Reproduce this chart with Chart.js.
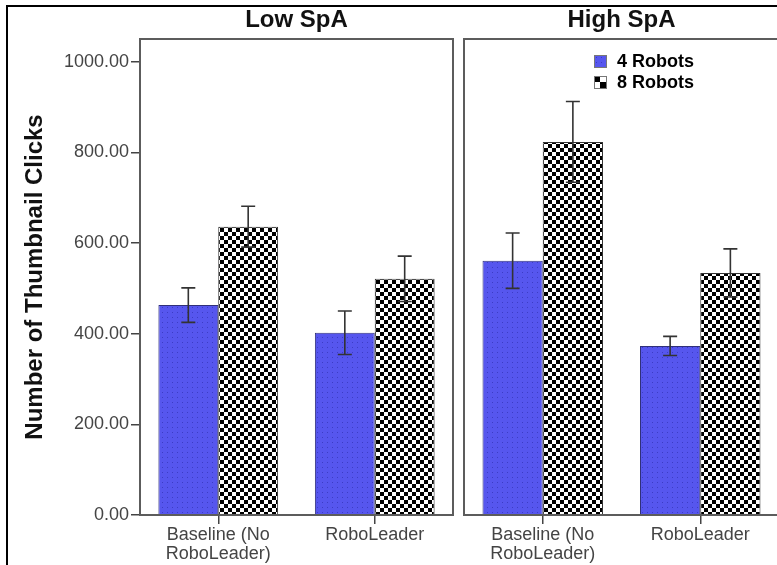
<!DOCTYPE html>
<html lang="en">
<head>
<meta charset="UTF-8">
<title>Number of Thumbnail Clicks</title>
<script src="https://cdn.jsdelivr.net/npm/chart.js@4.4.1/dist/chart.umd.min.js"></script>
<style>
  html, body { margin: 0; padding: 0; background: #fff; overflow: hidden; width: 777px; height: 565px; }
  #frame { position: absolute; left: 6px; top: 5px; width: 820px; height: 620px; border: 2px solid #000; box-sizing: border-box; }
  canvas { position: absolute; top: 0; }
  #low { left: 0; }
  #high { left: 460px; }
</style>
</head>
<body>
<div id="frame"></div>
<canvas id="low" width="462" height="565"></canvas>
<canvas id="high" width="340" height="565"></canvas>
<script>
// data
const categories = [['Baseline (No', 'RoboLeader)'], 'RoboLeader'];
const seriesNames = ['4 Robots', '8 Robots'];
const panelTitles = ['Low SpA', 'High SpA'];
const low4 = [463, 402];
const low8 = [636, 521];
const high4 = [561, 373];
const high8 = [823, 534];
const low4Err = [38, 48];
const low8Err = [45, 50];
const high4Err = [61, 21];
const high8Err = [89, 53];
const yTicks = [0, 200, 400, 600, 800, 1000];
const yMax = 1050;

const FONT = "'Liberation Sans', Arial, sans-serif";

function tile(w, h, draw) {
  const c = document.createElement('canvas');
  c.width = w; c.height = h;
  draw(c.getContext('2d'));
  return c.getContext('2d').createPattern(c, 'repeat');
}

const bluePattern = tile(5, 5, x => {
  x.fillStyle = '#5656ee'; x.fillRect(0, 0, 5, 5);
  x.fillStyle = '#3c3cc4'; x.fillRect(2, 2, 1, 1);
});
const checkPattern = tile(8, 8, x => {
  x.fillStyle = '#fff'; x.fillRect(0, 0, 8, 8);
  x.fillStyle = '#000'; x.fillRect(0, 0, 4, 4); x.fillRect(4, 4, 4, 4);
});
const checkSwatch = tile(12, 12, x => {
  x.fillStyle = '#fff'; x.fillRect(0, 0, 12, 12);
  x.fillStyle = '#000'; x.fillRect(0, 0, 6, 6); x.fillRect(6, 6, 6, 6);
});
const swatches = [bluePattern, checkSwatch];

// grey box round each panel
const panelBox = {
  id: 'panelBox',
  afterDatasetsDraw(chart) {
    const { ctx, chartArea: a } = chart;
    ctx.save();
    ctx.strokeStyle = '#5c5c5c';
    ctx.lineWidth = 2;
    ctx.strokeRect(a.left, a.top, a.right - a.left, a.bottom - a.top);
    ctx.restore();
  }
};

const errorBars = {
  id: 'errorBars',
  afterDatasetsDraw(chart) {
    const { ctx } = chart;
    const y = chart.scales.y;
    ctx.save();
    ctx.strokeStyle = '#333';
    ctx.lineWidth = 1.6;
    chart.data.datasets.forEach((ds, i) => {
      chart.getDatasetMeta(i).data.forEach((bar, j) => {
        const top = y.getPixelForValue(ds.data[j] + ds.errors[j]);
        const bot = y.getPixelForValue(ds.data[j] - ds.errors[j]);
        ctx.beginPath();
        ctx.moveTo(bar.x, top); ctx.lineTo(bar.x, bot);
        ctx.moveTo(bar.x - 7, top); ctx.lineTo(bar.x + 7, top);
        ctx.moveTo(bar.x - 7, bot); ctx.lineTo(bar.x + 7, bot);
        ctx.stroke();
      });
    });
    ctx.restore();
  }
};

const cornerLegend = {
  id: 'cornerLegend',
  afterDraw(chart) {
    const { ctx, chartArea: a } = chart;
    ctx.save();
    ctx.font = 'bold 18px ' + FONT;
    ctx.textBaseline = 'middle';
    chart.data.datasets.forEach((ds, i) => {
      const x = a.left + 130, y = a.top + 22 + i * 21;
      const p = swatches[i];
      p.setTransform(new DOMMatrix().translate(x, y - 6));
      ctx.fillStyle = p;
      ctx.fillRect(x, y - 6, 13, 13);
      ctx.strokeStyle = '#777';
      ctx.lineWidth = 1;
      ctx.strokeRect(x + 0.5, y - 5.5, 12, 12);
      ctx.fillStyle = '#000';
      ctx.fillText(ds.label, x + 23, y + 1);
    });
    ctx.restore();
  }
};

function panel(id, title, d4, d8, e4, e8, withAxis, padding, extra) {
  return new Chart(document.getElementById(id), {
    type: 'bar',
    data: {
      labels: categories,
      datasets: [
        { label: seriesNames[0], data: d4, errors: e4, backgroundColor: bluePattern,
          borderColor: '#30307a', borderWidth: 1 },
        { label: seriesNames[1], data: d8, errors: e8, backgroundColor: checkPattern,
          borderColor: '#333', borderWidth: 1 }
      ]
    },
    options: {
      responsive: false,
      animation: false,
      datasets: { bar: { categoryPercentage: 0.765, barPercentage: 1 } },
      layout: { padding: padding },
      plugins: {
        legend: { display: false },
        tooltip: { enabled: false },
        title: {
          display: true, text: title, fullSize: false, color: '#111',
          font: { family: FONT, size: 24, weight: 'bold' },
          padding: { top: 6, bottom: 4.2 }
        }
      },
      scales: {
        x: {
          afterFit(s) { s.height = 50; },
          grid: { offset: false, drawOnChartArea: false, drawTicks: true, tickLength: 9, color: '#444', lineWidth: 1.5 },
          border: { display: false },
          ticks: { color: '#444', padding: 2, maxRotation: 0, autoSkip: false,
                   font: { family: FONT, size: 18, lineHeight: 1.05 } }
        },
        y: {
          display: withAxis,
          min: 0, max: yMax,
          afterFit(s) { s.width = withAxis ? 140 : 0; },
          afterBuildTicks(s) { s.ticks = yTicks.map(v => ({ value: v })); },
          grid: { drawOnChartArea: false, drawTicks: true, tickLength: 9, color: '#444', lineWidth: 1.5 },
          border: { display: false },
          ticks: { color: '#444', padding: 2, font: { family: FONT, size: 18 },
                   callback: v => v.toFixed(2) },
          title: { display: true, text: 'Number of Thumbnail Clicks', color: '#111',
                   font: { family: FONT, size: 24, weight: 'bold' }, padding: { top: 20.6, bottom: 0 } }
        }
      }
    },
    plugins: [panelBox, errorBars].concat(extra)
  });
}

panel('low', panelTitles[0], low4, low8, low4Err, low8Err, true, { left: 0, right: 9, top: 0, bottom: 0 }, []);
panel('high', panelTitles[1], high4, high8, high4Err, high8Err, false, { left: 4, right: 21, top: 0, bottom: 0 }, [cornerLegend]);
</script>
</body>
</html>
